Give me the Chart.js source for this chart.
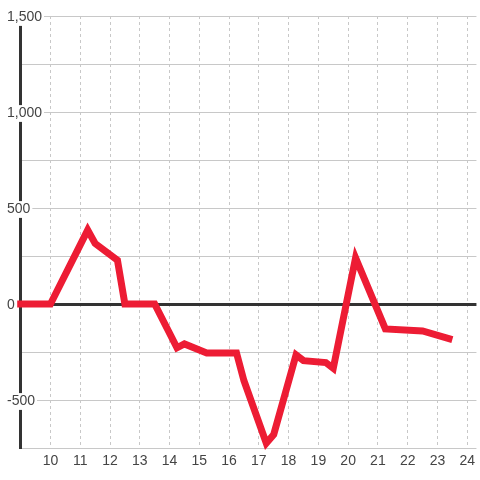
<!DOCTYPE html>
<html>
<head>
<meta charset="utf-8">
<script src="https://cdn.jsdelivr.net/npm/chart.js@4/dist/chart.umd.min.js"></script>
<style>
  html, body { margin: 0; padding: 0; background: #fff; }
  canvas { display: block; }
</style>
</head>
<body>
<canvas id="chart" width="480" height="480"></canvas>
<script>
// hour of day (x) and value (y)
const hours = [8.5, 9, 10, 11.25, 11.5, 12.25, 12.5, 13.5, 14.25, 14.5, 15.25, 16.25, 16.5, 17.25, 17.5, 18.25, 18.5, 19.25, 19.5, 20.25, 21.25, 22.5, 23.5];
const values = [0, 0, 0, 385, 315, 228, 0, 0, -228, -208, -255, -255, -400, -725, -680, -265, -295, -305, -335, 240, -130, -140, -185];

const xMin = 9, xMax = 24.31, xStep = 1;
const yMin = -750, yMax = 1500, yStep = 250, yLabelStep = 500;

const points = hours.map((h, i) => ({ x: h, y: values[i] }));
const font = { family: "'Liberation Sans', Arial, sans-serif", size: 14 };

const ctx = document.getElementById('chart').getContext('2d');
new Chart(ctx, {
  type: 'line',
  data: {
    datasets: [{
      data: points,
      borderColor: '#ed1c34',
      backgroundColor: '#ed1c34',
      borderWidth: 7,
      pointRadius: 0,
      tension: 0,
      fill: false,
      clip: 3.5
    }]
  },
  options: {
    responsive: false,
    animation: false,
    layout: { padding: { top: 16, left: 0, right: 0, bottom: 0 } },
    plugins: { legend: { display: false }, tooltip: { enabled: false } },
    scales: {
      x: {
        type: 'linear',
        min: xMin,
        max: xMax,
        z: -1,
        afterFit: s => { s.height = 32; },
        border: { display: false, dash: [3, 3] },
        grid: {
          color: '#c8c8c8',
          lineWidth: 1,
          drawTicks: false
        },
        ticks: {
          stepSize: xStep,
          includeBounds: false,
          padding: 5,
          color: '#444',
          font: font,
          callback: v => (v === xMin ? null : String(v))
        }
      },
      y: {
        type: 'linear',
        min: yMin,
        max: yMax,
        afterFit: s => { s.width = 20.7; },
        border: { display: true, color: '#333', width: 3 },
        grid: {
          drawTicks: false,
          color: c => (c.tick && c.tick.value === 0 ? '#333' : '#c8c8c8'),
          lineWidth: c => (c.tick && c.tick.value === 0 ? 3 : 1)
        },
        ticks: {
          stepSize: yStep,
          mirror: true,
          padding: -13.7,
          labelOffset: 1.5,
          color: '#444',
          font: font,
          showLabelBackdrop: true,
          backdropColor: '#fff',
          backdropPadding: { left: 2, right: 2, top: 0, bottom: 0 },
          callback: v => (v % yLabelStep === 0 ? v.toLocaleString('en-US') : '')
        }
      }
    }
  }
});
</script>
</body>
</html>
